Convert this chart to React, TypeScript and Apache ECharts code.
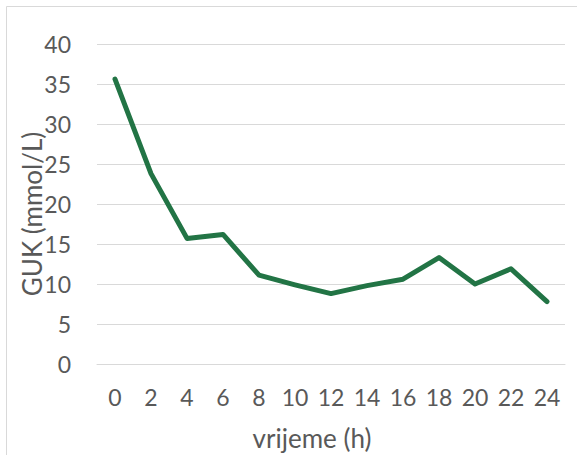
import React, { useEffect, useRef } from "react";
import * as echarts from "echarts";

const hours = ["0", "2", "4", "6", "8", "10", "12", "14", "16", "18", "20", "22", "24"];
const guk = [35.6, 23.8, 15.7, 16.2, 11.1, 9.9, 8.8, 9.8, 10.6, 13.3, 10.0, 11.9, 7.8];
const xTitle = "vrijeme (h)";
const yTitle = "GUK (mmol/L)";

const FONT = "Lato, 'Open Sans', sans-serif";
const TXT = "#595959";

export default function App() {
  const ref = useRef<HTMLDivElement>(null);
  useEffect(() => {
    if (!ref.current) return;
    const chart = echarts.init(ref.current, null, { renderer: "svg" });
    chart.setOption({
      animation: false,
      backgroundColor: "#ffffff",
      grid: { left: 97, right: 12, top: 44, bottom: 91, containLabel: false },
      xAxis: {
        type: "category",
        data: hours,
        boundaryGap: true,
        axisLine: { show: true, lineStyle: { color: "#d9d9d9", width: 1 } },
        axisTick: { show: false },
        axisLabel: { color: TXT, fontSize: 23, fontFamily: FONT, margin: 21 },
      },
      yAxis: {
        type: "value",
        min: 0,
        max: 40,
        interval: 5,
        axisLine: { show: false },
        axisTick: { show: false },
        axisLabel: { color: TXT, fontSize: 23, fontFamily: FONT, margin: 26 },
        splitLine: { lineStyle: { color: "#d9d9d9", width: 1 } },
      },
      graphic: [
        {
          type: "rect",
          shape: { x: 6.5, y: 6.5, width: 700, height: 700 },
          style: { fill: "none", stroke: "#d9d9d9", lineWidth: 1 },
          silent: true,
        },
        {
          type: "text",
          x: 312,
          y: 438,
          style: {
            text: xTitle,
            fill: TXT,
            fontSize: 26,
            fontFamily: FONT,
            align: "center",
            verticalAlign: "middle",
          },
        },
        {
          type: "text",
          x: 32,
          y: 214,
          rotation: Math.PI / 2,
          style: {
            text: yTitle,
            fill: TXT,
            fontSize: 26,
            fontFamily: FONT,
            align: "center",
            verticalAlign: "middle",
          },
        },
      ],
      series: [
        {
          type: "line",
          data: guk,
          symbol: "none",
          lineStyle: { color: "#227445", width: 5, cap: "round", join: "round" },
        },
      ],
    });
    return () => chart.dispose();
  }, []);
  return (
    <div
      ref={ref}
      style={{ position: "fixed", left: 0, top: 0, width: 577, height: 455 }}
    />
  );
}
